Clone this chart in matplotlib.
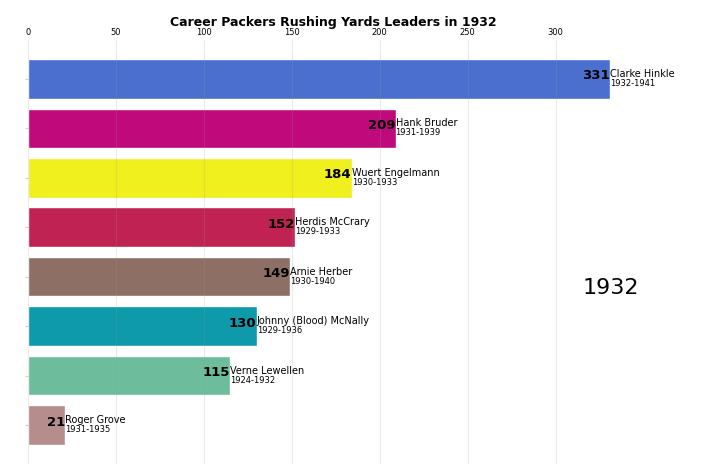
import matplotlib
matplotlib.use("Agg")
import matplotlib.pyplot as plt

year = "1932"
names = ["Clarke Hinkle", "Hank Bruder", "Wuert Engelmann", "Herdis McCrary",
         "Arnie Herber", "Johnny (Blood) McNally", "Verne Lewellen", "Roger Grove"]
yards = [331, 209, 184, 152, 149, 130, 115, 21]
years = ["1932-1941", "1931-1939", "1930-1933", "1929-1933",
         "1930-1940", "1929-1936", "1924-1932", "1931-1935"]
colors = ["#4a6fcf", "#c0097b", "#f0f01e", "#c02353",
          "#8e6f66", "#0e9aab", "#6dbd9c", "#b58d8c"]

fig = plt.figure(figsize=(7.19, 4.75), dpi=100)
ax = fig.add_axes([0.039, 0.023, 0.85, 0.893])

pos = list(range(len(names)))[::-1]
ax.barh(pos, yards, height=0.8, color=colors, edgecolor="white", linewidth=1, zorder=1)

for p, v, n, yr in zip(pos, yards, names, years):
    ax.text(v, p + 0.06, str(v), ha="right", va="center", size=9.5, weight="bold")
    ax.text(v, p, n, ha="left", va="bottom", size=7)
    ax.text(v, p, yr, ha="left", va="top", size=6)

ax.text(1, 0.415, year, transform=ax.transAxes, ha="right", va="center", size=16)

ax.xaxis.tick_top()
ax.tick_params(axis="x", labelsize=6, length=0, pad=2)
ax.tick_params(axis="y", labelleft=False, length=2, color="#cccccc")
ax.grid(axis="x", color="#999999", alpha=0.2, linewidth=0.8, zorder=2)
ax.set_axisbelow(False)
for s in ax.spines.values():
    s.set_visible(False)

# title placed by hand, the auto position sits too high with top ticks
fig.text(0.039 + 0.85 / 2, 0.953, "Career Packers Rushing Yards Leaders in " + year,
         ha="center", va="center", size=9, weight="bold")

fig.savefig("out.png", dpi=100)
